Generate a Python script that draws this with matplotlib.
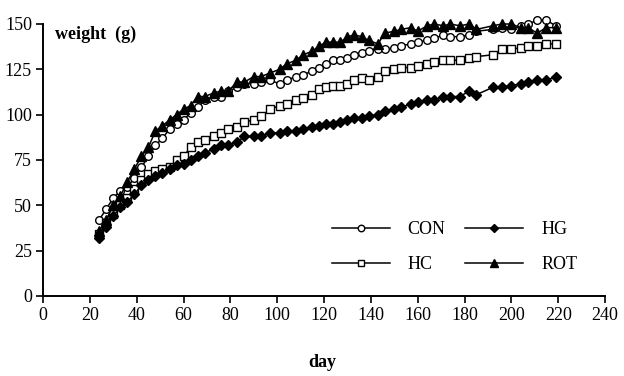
import matplotlib
matplotlib.use('Agg')
import matplotlib.pyplot as plt

# sampling days (shared by all four groups)
days = [24, 27, 30, 33, 36, 39, 42, 45, 48, 51, 54, 57, 60, 63, 66, 69, 73, 76, 79, 83,
        86, 90, 93, 97, 101, 104, 108, 111, 115, 118, 121, 124, 127, 130, 133, 136, 139, 143,
        146, 150, 153, 157, 160, 164, 167, 171, 174, 178, 182, 185, 192, 196, 200, 204, 207,
        211, 215, 219]

con = [42, 48, 54, 58, 60, 65, 71, 77, 83, 87, 92, 95, 97, 101, 104, 108, 110, 110, 113, 115,
       117, 117, 118, 119, 117, 119, 121, 122, 124, 126, 128, 130, 130, 131, 133, 134, 135, 136,
       136, 137, 138, 139, 140, 141, 142, 144, 143, 143, 144, 146, 147, 148, 147, 149, 150,
       152, 152, 149]

hc = [34, 40, 45, 50, 54, 59, 64, 67, 69, 70, 71, 75, 77, 82, 85, 86, 88, 90, 92, 93,
      96, 97, 99, 103, 105, 106, 108, 109, 111, 114, 115, 116, 116, 117, 119, 120, 119, 121,
      124, 125, 126, 126, 127, 128, 129, 130, 130, 130, 131, 132, 133, 136, 136, 137, 138,
      138, 139, 139]

hg = [32, 38, 44, 49, 52, 56, 61, 64, 66, 68, 70, 72, 73, 75, 77, 79, 81, 83, 83, 85,
      88, 88, 88, 90, 90, 91, 91, 92, 93, 94, 95, 95, 96, 97, 98, 98, 99, 100,
      102, 103, 104, 106, 107, 108, 108, 110, 110, 110, 113, 111, 115, 115, 116, 117, 118,
      119, 119, 121]

rot = [36, 42, 50, 55, 63, 70, 77, 82, 91, 94, 97, 100, 103, 105, 110, 110, 112, 113, 113, 118,
       118, 121, 121, 123, 125, 128, 130, 133, 135, 138, 140, 140, 140, 143, 144, 143, 141, 139,
       145, 146, 147, 148, 146, 149, 150, 149, 150, 149, 150, 147, 149, 150, 150, 148, 148,
       145, 148, 148]

xticks = list(range(0, 241, 20))
yticks = [0, 25, 50, 75, 100, 125, 150]

serif = ['Liberation Serif', 'DejaVu Serif']
plt.rcParams['font.family'] = serif

fig = plt.figure(figsize=(6.24, 3.76), dpi=100)
ax = fig.add_axes([0.069, 0.2128, 0.9006, 0.7234])

lw = 1.1
ax.plot(days, con, '-', color='black', lw=lw, marker='o', ms=5.5,
        mfc='white', mec='black', mew=1.0, label='CON', clip_on=False)
ax.plot(days, hc, '-', color='black', lw=lw, marker='s', ms=5.8,
        mfc='white', mec='black', mew=1.0, label='HC', clip_on=False)
ax.plot(days, hg, '-', color='black', lw=lw, marker='D', ms=5.2,
        mfc='black', mec='black', label='HG', clip_on=False)
ax.plot(days, rot, '-', color='black', lw=lw, marker='^', ms=6.7,
        mfc='black', mec='black', label='ROT', clip_on=False)

ax.set_xlim(0, 240)
ax.set_ylim(0, 150)
ax.set_xticks(xticks)
ax.set_yticks(yticks)
ax.spines['top'].set_visible(False)
ax.spines['right'].set_visible(False)
for s in ('left', 'bottom'):
    ax.spines[s].set_linewidth(1.4)
ax.tick_params(direction='out', length=5, width=1.2, labelsize=13, pad=3)

ax.text(5, 144.5, 'weight  (g)', fontsize=13, fontweight='bold', va='center', ha='left')
fig.text(0.517, 0.035, 'day', fontsize=13, fontweight='bold', ha='center', va='center')

ax.legend(loc='upper left', bbox_to_anchor=(0.514, 0.275), ncol=2, frameon=False,
          fontsize=13, handlelength=3.2, handletextpad=1.0, columnspacing=1.1,
          labelspacing=1.0, borderpad=0, borderaxespad=0, markerscale=0.85)

fig.savefig('out.png', dpi=100)
